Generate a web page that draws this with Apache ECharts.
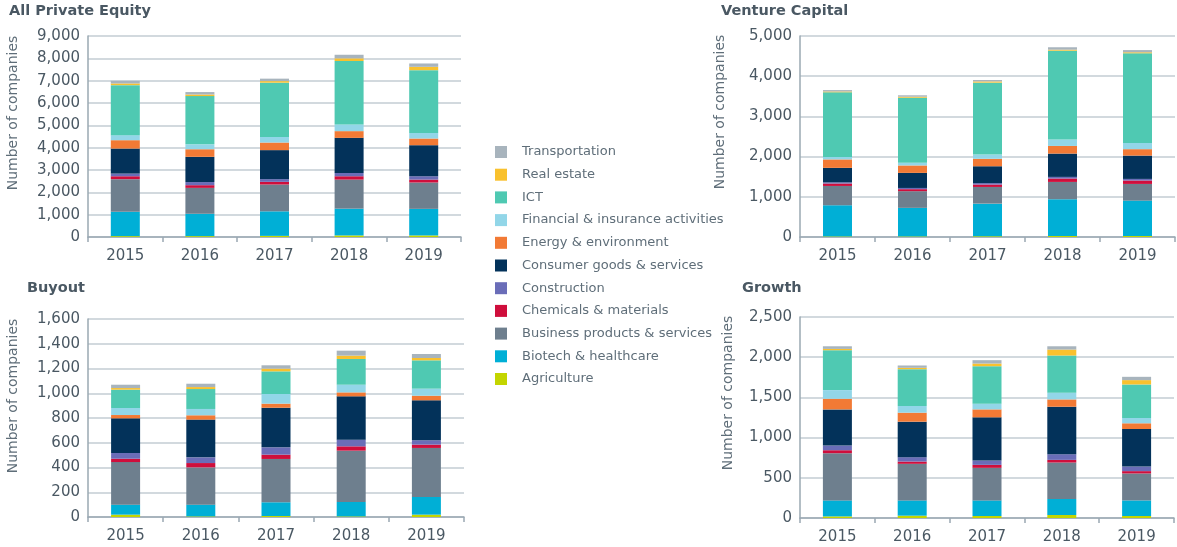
<!DOCTYPE html>
<html>
<head>
<meta charset="utf-8">
<script src="https://cdn.jsdelivr.net/npm/echarts@6/dist/echarts.min.js"></script>
<style>
html,body{margin:0;padding:0;background:#fff;}
#chart{width:1177px;height:547px;}
</style>
</head>
<body>
<div id="chart"></div>
<script>
const years = ['2015', '2016', '2017', '2018', '2019'];
// stack order: bottom to top
const sectors = ['Agriculture', 'Biotech & healthcare', 'Business products & services', 'Chemicals & materials',
  'Construction', 'Consumer goods & services', 'Energy & environment', 'Financial & insurance activities',
  'ICT', 'Real estate', 'Transportation'];
const sectorColors = ['#c3d500', '#00afd6', '#6e7f8e', '#cf0e3c', '#6a6db8', '#03325a', '#f27a35', '#92d6e8',
  '#4fc9b2', '#f9c12e', '#a8b4bd'];

// values per sector (rows follow `sectors`), columns follow `years`
const allPrivateEquity = [
  [40, 40, 50, 70, 70],
  [1090, 1000, 1100, 1200, 1190],
  [1460, 1160, 1200, 1300, 1180],
  [130, 120, 120, 150, 130],
  [120, 140, 120, 150, 150],
  [1120, 1130, 1300, 1570, 1390],
  [375, 340, 340, 300, 300],
  [225, 220, 250, 300, 250],
  [2240, 2160, 2430, 2840, 2810],
  [75, 70, 70, 120, 150],
  [120, 110, 110, 160, 150]
];
const ventureCapital = [
  [15, 15, 20, 25, 25],
  [775, 710, 810, 915, 880],
  [480, 415, 415, 430, 415],
  [60, 50, 60, 85, 85],
  [30, 30, 35, 40, 40],
  [360, 375, 420, 580, 580],
  [210, 185, 185, 190, 160],
  [60, 65, 105, 160, 155],
  [1610, 1620, 1790, 2210, 2230],
  [20, 25, 30, 25, 25],
  [35, 35, 35, 60, 55]
];
const buyout = [
  [19, 5, 8, 5, 19],
  [81, 95, 111, 116, 143],
  [344, 301, 350, 415, 396],
  [27, 35, 35, 35, 27],
  [46, 46, 59, 54, 35],
  [280, 305, 320, 350, 323],
  [27, 35, 33, 32, 37],
  [57, 51, 78, 62, 57],
  [148, 161, 183, 208, 229],
  [13, 16, 22, 27, 19],
  [27, 27, 27, 40, 32]
];
const growth = [
  [20, 29, 25, 37, 25],
  [199, 190, 194, 199, 194],
  [587, 455, 405, 454, 335],
  [37, 28, 37, 33, 29],
  [58, 54, 54, 70, 57],
  [450, 442, 537, 591, 467],
  [132, 112, 99, 91, 71],
  [108, 83, 70, 83, 66],
  [496, 458, 467, 463, 417],
  [16, 17, 33, 74, 54],
  [33, 29, 42, 41, 41]
];

const panels = [
  {title: 'All Private Equity', data: allPrivateEquity, max: 9000, interval: 1000,
   grid: {left: 88, top: 36, width: 373, height: 201}, titlePos: [9, 4], namePos: [13, 113]},
  {title: 'Venture Capital', data: ventureCapital, max: 5000, interval: 1000,
   grid: {left: 800, top: 36, width: 375, height: 201}, titlePos: [721, 4], namePos: [720, 112]},
  {title: 'Buyout', data: buyout, max: 1600, interval: 200,
   grid: {left: 88, top: 319, width: 376, height: 198}, titlePos: [27, 281], namePos: [13, 396]},
  {title: 'Growth', data: growth, max: 2500, interval: 500,
   grid: {left: 800, top: 317, width: 374, height: 201}, titlePos: [742, 281], namePos: [728, 393]}
];

const textColor = '#4a5863';
const font = 'DejaVu Sans';
const grids = [], xAxes = [], yAxes = [], series = [], graphics = [];

panels.forEach((p, i) => {
  grids.push(Object.assign({containLabel: false}, p.grid));
  xAxes.push({
    type: 'category', gridIndex: i, data: years,
    axisLine: {lineStyle: {color: '#9aa8b2', width: 1.5}},
    axisTick: {show: true, length: 5, lineStyle: {color: '#9aa8b2', width: 1.5}},
    axisLabel: {color: textColor, fontSize: 15, fontFamily: font, margin: 12}
  });
  yAxes.push({
    type: 'value', gridIndex: i, min: 0, max: p.max, interval: p.interval,
    axisLine: {show: true, lineStyle: {color: '#9aa8b2', width: 1.5}},
    axisTick: {show: false},
    splitLine: {lineStyle: {color: '#c3ccd3', width: 1.5}},
    axisLabel: {color: textColor, fontSize: 15, fontFamily: font, margin: 8,
      formatter: v => v.toLocaleString('en-US')}
  });
  sectors.forEach((s, k) => {
    series.push({
      type: 'bar', name: s, xAxisIndex: i, yAxisIndex: i, stack: 'panel' + i,
      barWidth: 29, data: p.data[k],
      itemStyle: {color: sectorColors[k]},
      emphasis: {disabled: true}
    });
  });
  graphics.push({
    type: 'text', left: p.titlePos[0], top: p.titlePos[1],
    style: {text: p.title, fill: textColor, font: 'bold 14.5px "DejaVu Sans"'}
  });
  graphics.push({
    type: 'text', x: p.namePos[0], y: p.namePos[1], rotation: Math.PI / 2,
    style: {text: 'Number of companies', fill: '#5f6e79', font: '14px "DejaVu Sans"',
      align: 'center', verticalAlign: 'middle'}
  });
});

const chart = echarts.init(document.getElementById('chart'));
chart.setOption({
  animation: false,
  backgroundColor: '#fff',
  grid: grids,
  xAxis: xAxes,
  yAxis: yAxes,
  legend: {
    orient: 'vertical', left: 495, top: 145.5, padding: 0,
    data: sectors.slice().reverse(),
    icon: 'rect', itemWidth: 12, itemHeight: 12, itemGap: 9.7,
    textStyle: {color: '#5f6e79', fontSize: 13, fontFamily: font, padding: [0, 0, 0, 10]}
  },
  graphic: graphics,
  series: series
});
</script>
</body>
</html>
